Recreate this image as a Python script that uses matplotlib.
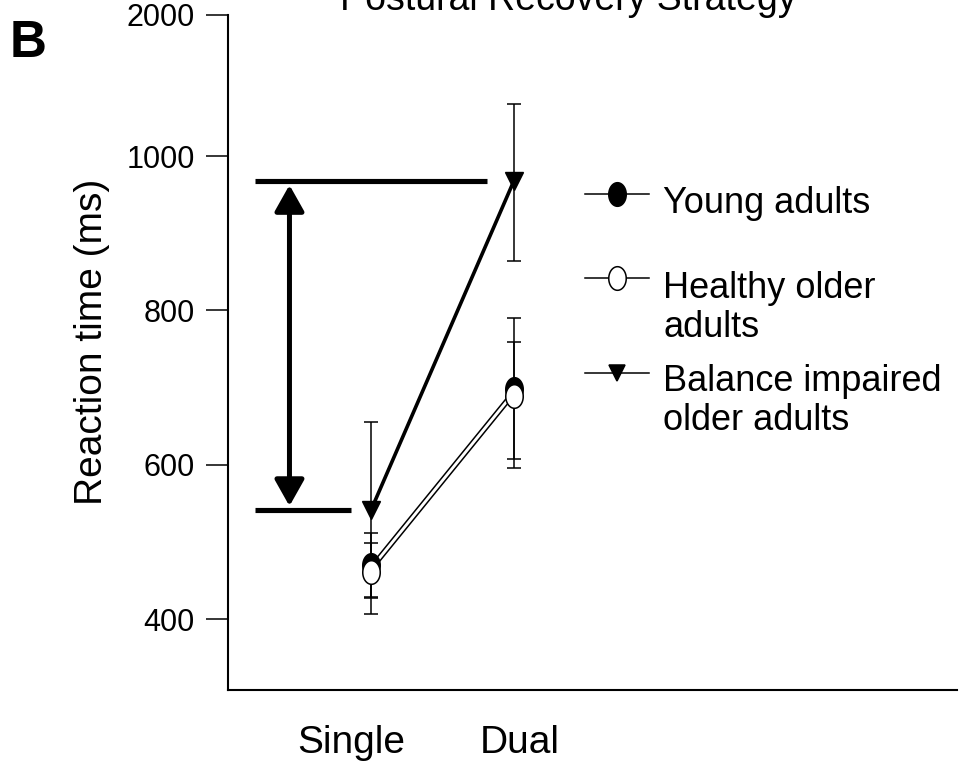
import numpy as np
import matplotlib.pyplot as plt

plt.rcParams['font.family'] = ['Liberation Sans', 'DejaVu Sans']

conditions = ['Single', 'Dual']
cond_x = [1, 2]
label_x = [0.86, 2.04]

young = [470, 698]
young_lo = [41, 91]
young_hi = [41, 92]

healthy = [461, 689]
healthy_lo = [54, 93]
healthy_hi = [37, 70]

impaired = [541, 968]
impaired_lo = [114, 104]
impaired_hi = [114, 100]

yticks = [400, 600, 800, 1000, 2000]

# broken axis: the part above ~1100 is squeezed so 2000 sits at the top
brk = 1100
k = 0.0922
def fwd(y):
    y = np.asarray(y, dtype=float)
    return np.where(y <= brk, y, brk + (y - brk) * k)
def inv(z):
    z = np.asarray(z, dtype=float)
    return np.where(z <= brk, z, brk + (z - brk) / k)

fig = plt.figure(figsize=(9.64, 7.61), dpi=100)
ax = fig.add_axes([228/964, 1 - 690/761, 729/964, 675/761])
ax.set_yscale('function', functions=(fwd, inv))

# ellipse shaped circle marker (picture is stretched vertically)
t = np.linspace(0, 2*np.pi, 60)
ell = list(zip(0.74*np.cos(t), np.sin(t)))

ax.errorbar(cond_x, impaired, yerr=[impaired_lo, impaired_hi], color='black',
            lw=2.6, marker='v', ms=13, elinewidth=1.1, capsize=5, capthick=1.1, zorder=3)
ax.errorbar(cond_x, young, yerr=[young_lo, young_hi], color='black',
            lw=1.1, marker=ell, ms=17, mfc='black', mec='black', mew=1.1,
            elinewidth=1.1, capsize=5, capthick=1.1, zorder=4)
ax.errorbar(cond_x, healthy, yerr=[healthy_lo, healthy_hi], color='black',
            lw=1.1, marker=ell, ms=17, mfc='white', mec='black', mew=1.1,
            elinewidth=1.1, capsize=5, capthick=1.1, zorder=5)

# difference bracket
ax.hlines(impaired[1], 0.19, 1.81, color='black', lw=3.7)
ax.hlines(impaired[0], 0.19, 0.86, color='black', lw=3.7)
ax.annotate('', xy=(0.43, impaired[1]), xytext=(0.43, impaired[0]),
            arrowprops=dict(arrowstyle='<|-|>,head_length=0.8,head_width=0.45',
                            mutation_scale=20, lw=3.6, color='black',
                            shrinkA=3, shrinkB=3))

ax.set_xlim(0, 5.1)
ax.set_ylim(308, 2000)
ax.set_yticks(yticks)
ax.set_yticklabels([str(v) for v in yticks])
ax.set_xticks(label_x)
ax.set_xticklabels(conditions)
ax.tick_params(axis='x', length=0, labelsize=28, pad=25)
ax.tick_params(axis='y', length=16, width=1.1, labelsize=22, pad=8)
for s in ['top', 'right']:
    ax.spines[s].set_visible(False)
for s in ['left', 'bottom']:
    ax.spines[s].set_linewidth(1.5)
ax.set_ylabel('Reaction time (ms)', fontsize=28)
ax.yaxis.set_label_coords(-0.162, 0.515)

# legend, drawn by hand so the handle sits on the first text line
leg_items = [('Young adults', ell, 'black', 17, 0.735, 0.707),
             ('Healthy older\nadults', ell, 'white', 17, 0.610, 0.523),
             ('Balance impaired\nolder adults', 'v', 'black', 11, 0.470, 0.385)]
for lab, mk, fc, ms, yy, ty in leg_items:
    ax.plot([0.490, 0.578], [yy, yy], color='black', lw=1.1, transform=ax.transAxes, clip_on=False)
    ax.plot([0.534], [yy], marker=mk, ms=ms, mfc=fc, mec='black', mew=1.1,
            transform=ax.transAxes, clip_on=False)
    ax.text(0.597, ty, lab, fontsize=26, va='baseline', ha='left',
            linespacing=1.16, transform=ax.transAxes)

fig.text(568/964, 1 - 10/761, 'Postural Recovery Strategy', fontsize=27,
         ha='center', va='baseline')
fig.text(10/964, 1 - 57/761, 'B', fontsize=37, fontweight='bold', ha='left', va='baseline')

fig.savefig('out.png', dpi=100)
